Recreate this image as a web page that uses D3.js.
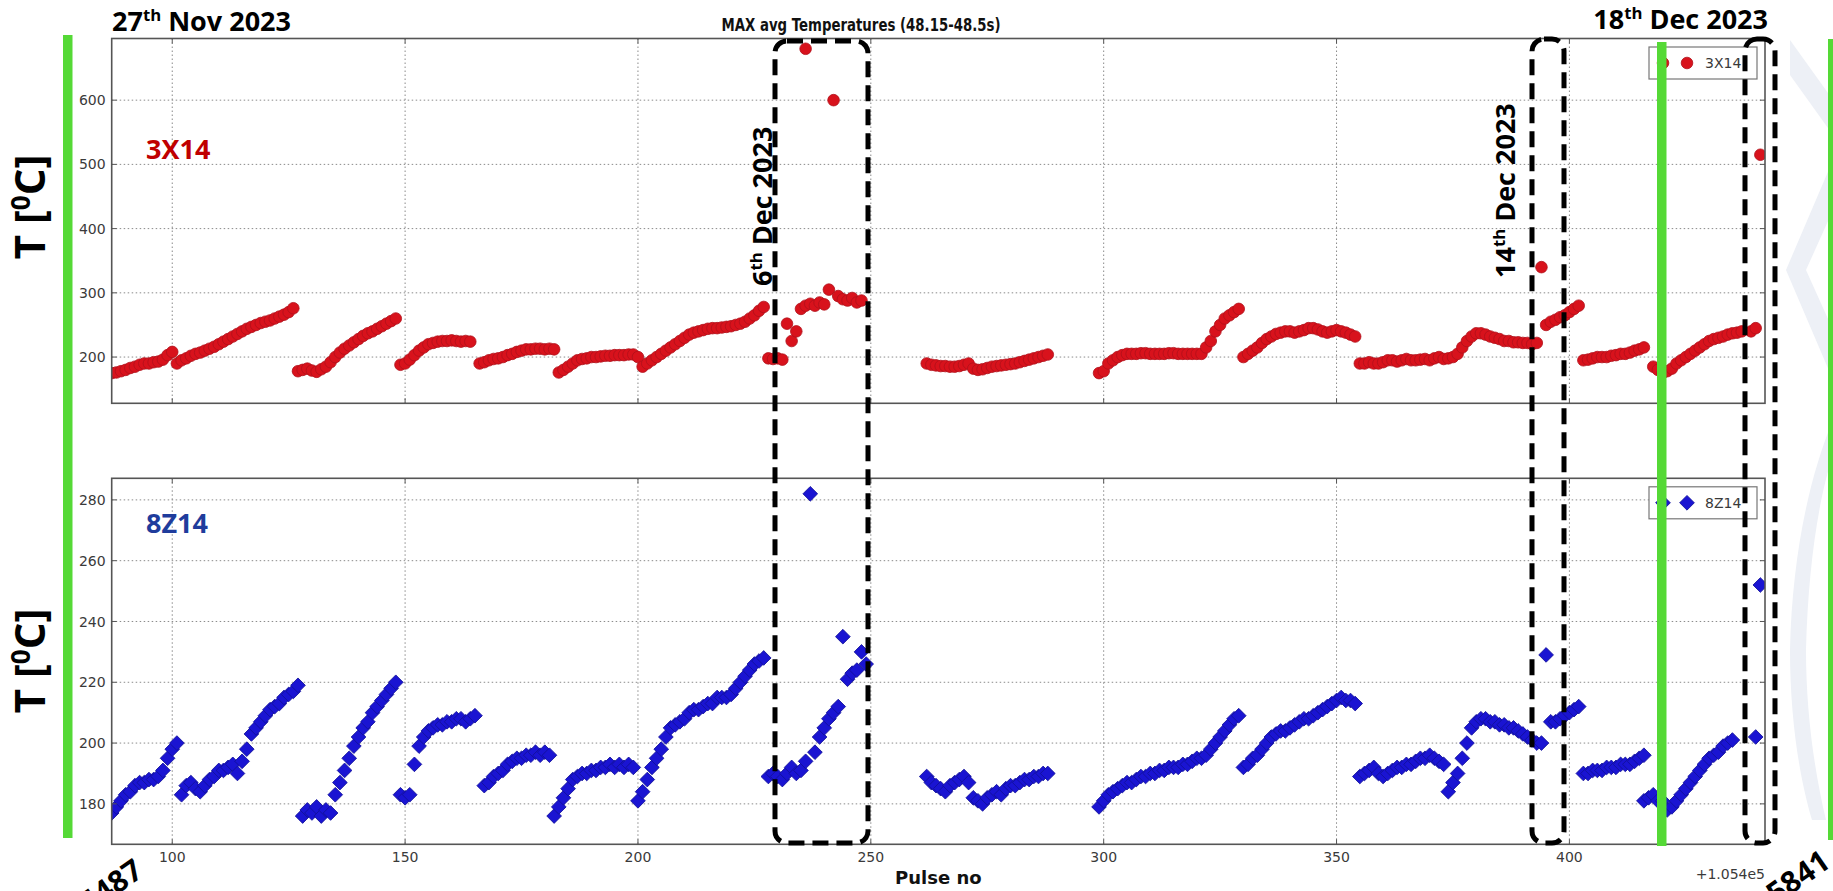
<!DOCTYPE html>
<html>
<head>
<meta charset="utf-8">
<script src="https://cdn.jsdelivr.net/npm/d3@7"></script>
<style>
  html, body { margin: 0; padding: 0; background: #ffffff; }
  svg { display: block; }
</style>
</head>
<body>
<svg id="chart" width="1833" height="891"></svg>
<script>
// ---- axis setup ----
const xDomain = [87, 442];
const topDomain = [128, 696];
const botDomain = [166.7, 287.1];
const xTicks = [100, 150, 200, 250, 300, 350, 400];
const topTicks = [200, 300, 400, 500, 600];
const botTicks = [180, 200, 220, 240, 260, 280];

// ---- measured temperatures, grouped in runs of consecutive pulses [firstPulse, temps] ----
const runs3X14 = [
  [87,  [175,176,178,180,183,185,188,190,190,192,193,196,203,208]],
  [101, [190,195,198,202,205,207,210,213,216,220,224,228,232,236,240,244,247,250,253,255,257,260,263,266,270,276]],
  [127, [178,180,182,179,177,181,185,192,200,207,213,218,223,228,233,237,240,244,248,252,256,260]],
  [149, [188,190,196,203,210,215,220,222,224,225,225,226,225,224,225,224]],
  [166, [190,192,195,197,198,200,203,205,208,210,212,212,213,213,212,213,212]],
  [183, [176,180,185,190,195,197,198,200,200,201,202,202,203,203,203,204,204,200]],
  [201, [185,190,195,200,205,210,215,220,225,230,235,238,240,242,244,245,245,246,247,248,250,252,255,260,265,272,278]],
  [228, [198,197,198,196,252,225,240,275,280,283,280,285,282,305,600,295,290,288,292,285,288]],
  [236, [680]],
  [262, [190,188,187,186,186,185,185,186,188,190,182,180,181,183,185,186,187,188,189,190,192,194,196,198,200,202,204]],
  [299, [175,178,190,195,200,203,205,205,205,206,206,205,205,205,205,206,206,205,205,205,205,205,205,215,225,240,250,260,265,270,275]],
  [330, [200,205,210,215,222,228,232,236,238,240,240,238,240,242,245,245,243,240,238,240,242,240,238,235,232]],
  [355, [190,190,192,190,190,192,195,195,193,195,197,195,195,196,197,195,198,200,197,198,200,205,215,225,232,237,237,235,232,230,228,225,225,223,223,222,222,220,222]],
  [394, [340,250,255,258,262,265,270,275,280]],
  [403, [195,196,198,200,200,200,202,203,205,205,207,210,212,215]],
  [418, [185,180,175,178,182,190,195,200,205,210,215,220,225,228,230,232,235,237,238,240]],
  [439, [240,245]],
  [441, [515]]
];

const runs8Z14 = [
  [87,  [177,179,181,183,184,186,187,187,188,188,189,191,195,198,200]],
  [102, [183,186,187,185,184,186,188,189,191,191,192,193,190,194,198,203,205,207,209,211,212,213,215,216,217,219]],
  [128, [176,178,177,179,176,178,177,183,187,191,195,199,202,205,207,210,212,214,216,218,220]],
  [149, [183,182,183,193,199,202,204,205,206,206,207,207,208,208,207,208,209]],
  [167, [186,187,189,190,191,193,194,195,195,196,196,197,196,197,196]],
  [182, [176,179,182,185,188,189,190,190,191,191,192,192,193,192,193,192,193,192]],
  [200, [181,184,188,192,195,198,202,205,206,207,208,210,211,211,212,213,213,215,215,215,216,218,220,222,224,226,227,228]],
  [228, [189,190,189,188,190,192,190,191,194,282,197,202,205,208,210,212,235,221,223,224,230,226]],
  [262, [189,187,186,185,184,186,187,188,189,187,182,181,180,182,183,184,183,185,186,186,187,188,188,189,189,190,190]],
  [299, [179,181,183,184,185,186,187,187,188,189,189,190,190,191,191,192,192,192,193,193,194,195,195,196,198,200,202,204,206,208,209]],
  [330, [192,193,195,196,198,200,202,203,204,204,205,206,207,208,208,209,210,211,212,213,214,215,214,214,213]],
  [355, [189,190,191,192,190,189,190,191,192,192,193,193,194,195,195,196,195,194,193,184,187,190,195,200,205,207,208,208,207,207,206,206,205,205,204,203,202,201,200,200]],
  [395, [229,207,207,208,209,210,211,212]],
  [403, [190,190,191,191,191,192,192,192,193,193,193,194,195,196]],
  [416, [181,182,183,181,181,178,179,181,183,185,187,189,191,193,195,196,197,199,200,201]],
  [440, [202,252]]
];

function flatten(runs) {
  const out = [];
  runs.forEach(([first, temps]) => temps.forEach((t, i) => out.push({ pulse: first + i, temp: t })));
  return out;
}
const points3X14 = flatten(runs3X14);
const points8Z14 = flatten(runs8Z14);

// ---- layout ----
const svg = d3.select("#chart");
const plotLeft = 111.7, plotRight = 1765;
const topPanel = { y0: 38.5, y1: 403.3 };
const botPanel = { y0: 478.3, y1: 844.3 };

const x = d3.scaleLinear().domain(xDomain).range([plotLeft, plotRight]);
const yTop = d3.scaleLinear().domain(topDomain).range([topPanel.y1, topPanel.y0]);
const yBot = d3.scaleLinear().domain(botDomain).range([botPanel.y1, botPanel.y0]);

const tickFont = "'DejaVu Sans', sans-serif";
const annotFont = "'Open Sans', 'Noto Sans', sans-serif";

// faint emblem in the right margin
const emblem = svg.append("g").attr("fill", "#edf0f6");
emblem.append("path").attr("d", "M1790,40 L1833,100 L1833,135 L1790,75 Z");
emblem.append("path").attr("d", "M1833,160 L1786,270 L1833,380 L1833,330 L1806,270 L1833,210 Z");
emblem.append("path").attr("d", "M1833,420 C1808,480 1792,560 1790,650 C1790,720 1800,780 1812,820 L1826,820 C1814,770 1806,710 1806,650 C1808,570 1818,500 1833,455 Z");

function drawPanel(panel, y, ticks, points, kind, legendLabel, clipId) {
  const g = svg.append("g");
  const defs = svg.append("defs");
  defs.append("clipPath").attr("id", clipId)
    .append("rect").attr("x", plotLeft).attr("y", panel.y0)
    .attr("width", plotRight - plotLeft).attr("height", panel.y1 - panel.y0);

  // dotted grid
  const grid = g.append("g").attr("stroke", "#8a8a8a").attr("stroke-width", 1)
    .attr("stroke-dasharray", "1.5,2.5");
  grid.selectAll("line.h").data(ticks).join("line").attr("class", "h")
    .attr("x1", plotLeft).attr("x2", plotRight)
    .attr("y1", d => y(d)).attr("y2", d => y(d));
  grid.selectAll("line.v").data(xTicks).join("line").attr("class", "v")
    .attr("x1", d => x(d)).attr("x2", d => x(d))
    .attr("y1", panel.y0).attr("y2", panel.y1);

  // markers
  const m = g.append("g").attr("clip-path", `url(#${clipId})`);
  if (kind === "circle") {
    m.selectAll("circle").data(points).join("circle")
      .attr("cx", d => x(d.pulse)).attr("cy", d => y(d.temp)).attr("r", 5.8)
      .attr("fill", "#d8121c").attr("stroke", "#b0101a").attr("stroke-width", 0.8);
  } else {
    const diamond = d3.symbol().type(d3.symbolSquare).size(108)();
    m.selectAll("path").data(points).join("path")
      .attr("d", diamond)
      .attr("transform", d => `translate(${x(d.pulse)},${y(d.temp)}) rotate(45)`)
      .attr("fill", "#1a14d2").attr("stroke", "#12109a").attr("stroke-width", 0.8);
  }

  // frame and inward ticks on every side
  g.append("rect").attr("x", plotLeft).attr("y", panel.y0)
    .attr("width", plotRight - plotLeft).attr("height", panel.y1 - panel.y0)
    .attr("fill", "none").attr("stroke", "#555").attr("stroke-width", 1.6);
  const tk = g.append("g").attr("stroke", "#555").attr("stroke-width", 1);
  ticks.forEach(t => {
    tk.append("line").attr("x1", plotLeft).attr("x2", plotLeft + 5).attr("y1", y(t)).attr("y2", y(t));
    tk.append("line").attr("x1", plotRight - 5).attr("x2", plotRight).attr("y1", y(t)).attr("y2", y(t));
  });
  xTicks.forEach(t => {
    tk.append("line").attr("x1", x(t)).attr("x2", x(t)).attr("y1", panel.y1).attr("y2", panel.y1 - 5);
    tk.append("line").attr("x1", x(t)).attr("x2", x(t)).attr("y1", panel.y0).attr("y2", panel.y0 + 5);
  });

  // y tick labels
  g.append("g").selectAll("text").data(ticks).join("text")
    .attr("x", plotLeft - 6).attr("y", d => y(d)).attr("dy", "0.36em")
    .attr("text-anchor", "end").attr("font-family", tickFont).attr("font-size", 14)
    .attr("fill", "#3a3a3a").text(d => d);

  // legend (two sample markers, matplotlib style)
  const lg = g.append("g");
  const lx = 1649, ly = panel.y0 + 8.5;
  lg.append("rect").attr("x", lx).attr("y", ly).attr("width", 108).attr("height", 32)
    .attr("fill", "#fff").attr("stroke", "#777").attr("stroke-width", 1.2);
  const cy = ly + 16;
  [1663, 1687].forEach(cx => {
    if (kind === "circle") {
      lg.append("circle").attr("cx", cx).attr("cy", cy).attr("r", 5.8)
        .attr("fill", "#d8121c").attr("stroke", "#b0101a").attr("stroke-width", 0.8);
    } else {
      lg.append("path").attr("d", d3.symbol().type(d3.symbolSquare).size(108)())
        .attr("transform", `translate(${cx},${cy}) rotate(45)`)
        .attr("fill", "#1a14d2").attr("stroke", "#12109a").attr("stroke-width", 0.8);
    }
  });
  lg.append("text").attr("x", 1705).attr("y", cy).attr("dy", "0.36em")
    .attr("font-family", tickFont).attr("font-size", 14).attr("fill", "#3a3a3a").text(legendLabel);
}

drawPanel(topPanel, yTop, topTicks, points3X14, "circle", "3X14", "clipTop");
drawPanel(botPanel, yBot, botTicks, points8Z14, "diamond", "8Z14", "clipBot");

// x tick labels under the lower panel
svg.append("g").selectAll("text").data(xTicks).join("text")
  .attr("x", d => x(d)).attr("y", 862).attr("text-anchor", "middle")
  .attr("font-family", tickFont).attr("font-size", 14).attr("fill", "#3a3a3a").text(d => d);

svg.append("text").attr("x", plotRight).attr("y", 879).attr("text-anchor", "end")
  .attr("font-family", tickFont).attr("font-size", 14).attr("fill", "#3a3a3a").text("+1.054e5");

svg.append("text").attr("x", (plotLeft + plotRight) / 2).attr("y", 884).attr("text-anchor", "middle")
  .attr("font-family", tickFont).attr("font-weight", "bold").attr("font-size", 18)
  .attr("fill", "#111").text("Pulse no");

svg.append("text").attr("x", 861).attr("y", 30.5).attr("text-anchor", "middle")
  .attr("font-family", tickFont).attr("font-weight", "bold").attr("font-size", 17.5)
  .attr("textLength", 279).attr("lengthAdjust", "spacingAndGlyphs")
  .attr("fill", "#111").text("MAX avg Temperatures (48.15-48.5s)");

// green markers
const green = "#55d936";
[[63, 35, 838], [1657, 42, 846], [1828, 39, 840]].forEach(([gx, y0, y1]) => {
  svg.append("rect").attr("x", gx).attr("y", y0).attr("width", 9.5).attr("height", y1 - y0).attr("fill", green);
});

// annotation text helpers
function supText(t, pre, sup, post, size) {
  t.append("tspan").text(pre);
  t.append("tspan").attr("font-size", size * 0.62).attr("dy", -size * 0.36).text(sup);
  t.append("tspan").attr("dy", size * 0.36).text(post);
  return t;
}
function label(xp, yp, rot, size, anchor, color) {
  return svg.append("text")
    .attr("transform", `translate(${xp},${yp}) rotate(${rot})`)
    .attr("text-anchor", anchor).attr("font-family", annotFont).attr("font-weight", "bold")
    .attr("font-size", size).attr("fill", color || "#000");
}

supText(label(112, 31, 0, 27, "start"), "27", "th", " Nov 2023", 27);
supText(label(1768, 29, 0, 27, "end"), "18", "th", " Dec 2023", 27);
supText(label(772, 286, -90, 27, "start"), "6", "th", " Dec 2023", 27);
supText(label(1515, 278, -90, 27, "start"), "14", "th", " Dec 2023", 27);
supText(label(45, 207, -90, 42, "middle"), "T [", "0", "C]", 42);
supText(label(45, 661, -90, 42, "middle"), "T [", "0", "C]", 42);

label(146, 159, 0, 27, "start", "#c00000").text("3X14");
label(146, 533, 0, 27, "start", "#1f3c9c").text("8Z14");

// first and last pulse numbers, slanted at the bottom corners
label(145, 875, -35, 30, "end").text("105487");
label(1832, 866, -35, 30, "end").text("105841");

// dashed highlight boxes
const boxes = [[775, 41, 868, 843], [1532, 39, 1564, 843], [1745, 39, 1775, 843]];
svg.append("g").selectAll("rect").data(boxes).join("rect")
  .attr("x", d => d[0]).attr("y", d => d[1])
  .attr("width", d => d[2] - d[0]).attr("height", d => d[3] - d[1])
  .attr("rx", 12).attr("ry", 12)
  .attr("fill", "none").attr("stroke", "#000").attr("stroke-width", 5)
  .attr("stroke-dasharray", "16,8");
</script>
</body>
</html>
